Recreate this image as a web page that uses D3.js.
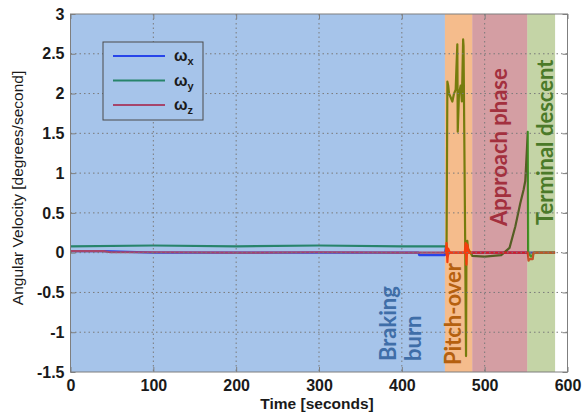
<!DOCTYPE html>
<html>
<head>
<meta charset="utf-8">
<script src="https://cdn.jsdelivr.net/npm/d3@7"></script>
<style>
  body { margin: 0; background: #fff; }
  text { font-family: "Liberation Sans", Arial, sans-serif; }
</style>
</head>
<body>
<script>
// series (time in seconds, rate in deg/s)
const tX = [0, 40, 100, 200, 300, 400, 420, 421, 452, 453, 455, 457, 476, 478, 480, 485, 552, 585];
const wX = [0.02, 0.02, 0, 0, 0, 0, 0, -0.03, -0.03, 0.06, -0.05, 0, 0, 0.1, 0, 0, 0, 0];

const tY = [0, 100, 200, 300, 400, 453, 454, 455, 456, 457, 459, 461, 463, 465, 466, 467, 467.5, 469, 471, 472.5, 474, 474.5, 476.5, 477.5, 478, 479, 480, 485, 500, 520, 530, 537, 543, 547, 549, 551, 552, 552.5, 556, 560, 585];
const wY = [0.08, 0.09, 0.08, 0.09, 0.08, 0.08, 0.06, 2.15, 2.1, 2.0, 1.95, 1.9, 2.0, 2.05, 2.35, 2.62, 1.52, 2.0, 2.1, 1.9, 2.68, 2.6, 0.1, -1.3, 0.05, 0.15, 0.05, -0.04, -0.05, -0.03, 0.06, 0.33, 0.62, 0.79, 0.9, 1.3, 1.52, 0, -0.05, 0, 0];

const tZ = [0, 40, 48, 100, 200, 300, 400, 453, 454, 455, 456, 458, 476, 477, 478, 479, 481, 485, 520, 552, 553, 554, 558, 559, 562, 585];
const wZ = [0.02, 0.02, 0.005, 0.005, 0.0, 0.005, 0.0, 0.0, 0.12, -0.12, 0.05, 0, 0, 0.12, -0.15, 0.1, 0, 0, 0, 0, -0.1, -0.08, -0.08, 0, 0, 0];

const seriesNames = ['x', 'y', 'z'];
const seriesColors = ['#0000ff', '#007f00', '#ff0000'];

const phaseNames = ['Braking burn', 'Pitch-over', 'Approach phase', 'Terminal descent'];
const phaseStart = [0, 452, 485, 551.5];
const phaseEnd = [452, 485, 551.5, 585];
const phaseFill = ['#4d89d5', '#eb7919', '#a93d47', '#89a94d'];
const phaseText = ['#3f6ea8', '#b5600f', '#a3303e', '#4b7a29'];

const xTicks = [0, 100, 200, 300, 400, 500, 600];
const yTicks = [-1.5, -1, -0.5, 0, 0.5, 1, 1.5, 2, 2.5, 3];

const W = 584, H = 419;
const plot = { left: 70.5, right: 567.5, top: 14, bottom: 372 };

const x = d3.scaleLinear().domain([0, 600]).range([plot.left, plot.right]);
const y = d3.scaleLinear().domain([-1.5, 3]).range([plot.bottom, plot.top]);

const svg = d3.select('body').append('svg').attr('width', W).attr('height', H);

svg.append('defs').append('clipPath').attr('id', 'clip')
  .append('rect')
  .attr('x', plot.left).attr('y', plot.top)
  .attr('width', plot.right - plot.left).attr('height', plot.bottom - plot.top);

svg.append('rect')
  .attr('x', plot.left).attr('y', plot.top)
  .attr('width', plot.right - plot.left).attr('height', plot.bottom - plot.top)
  .attr('fill', '#fff');

const body = svg.append('g').attr('clip-path', 'url(#clip)');

// data lines
const line = d3.line().x((d) => x(d[0])).y((d) => y(d[1]));
const seriesData = [d3.zip(tX, wX), d3.zip(tY, wY), d3.zip(tZ, wZ)];
seriesData.forEach((pts, i) => {
  body.append('path')
    .attr('d', line(pts))
    .attr('fill', 'none')
    .attr('stroke', seriesColors[i])
    .attr('stroke-width', 2.2)
    .attr('stroke-linejoin', 'round');
});

// translucent phase bands laid over the lines
body.selectAll('rect.phase')
  .data(phaseNames)
  .join('rect')
  .attr('class', 'phase')
  .attr('x', (d, i) => x(phaseStart[i]))
  .attr('width', (d, i) => x(phaseEnd[i]) - x(phaseStart[i]))
  .attr('y', plot.top)
  .attr('height', plot.bottom - plot.top)
  .attr('fill', (d, i) => phaseFill[i])
  .attr('fill-opacity', 0.5);

// dotted grid
const grid = svg.append('g').attr('stroke', '#7a7a7a').attr('stroke-width', 1).attr('stroke-dasharray', '1.5,3');
xTicks.slice(1, -1).forEach((t) => {
  grid.append('line').attr('x1', x(t)).attr('x2', x(t)).attr('y1', plot.top).attr('y2', plot.bottom);
});
yTicks.slice(1, -1).forEach((t) => {
  grid.append('line').attr('x1', plot.left).attr('x2', plot.right).attr('y1', y(t)).attr('y2', y(t));
});

// phase labels
const labelPos = [
  { lines: ['Braking', 'burn'], xs: [396, 421], y: 361 },
  { lines: ['Pitch-over'], xs: [461], y: 365 },
  { lines: ['Approach phase'], xs: [507], y: 226 },
  { lines: ['Terminal descent'], xs: [553], y: 225 }
];
labelPos.forEach((p, i) => {
  p.lines.forEach((txt, j) => {
    svg.append('text')
      .attr('transform', `translate(${p.xs[j]},${p.y}) rotate(-90)`)
      .attr('fill', phaseText[i])
      .style('font-family', 'Lato, sans-serif')
      .style('font-weight', 700)
      .style('font-size', '22px')
      .text(txt);
  });
});

// axes box and inward ticks
svg.append('rect')
  .attr('x', plot.left).attr('y', plot.top)
  .attr('width', plot.right - plot.left).attr('height', plot.bottom - plot.top)
  .attr('fill', 'none').attr('stroke', '#7f7f7f');

const fmt = (d) => String(d).replace('\u2212', '-');

const xAxis = svg.append('g').attr('transform', `translate(0,${plot.bottom})`)
  .call(d3.axisBottom(x).tickValues(xTicks).tickSize(-5).tickPadding(8).tickFormat(fmt));
const yAxis = svg.append('g').attr('transform', `translate(${plot.left},0)`)
  .call(d3.axisLeft(y).tickValues(yTicks).tickSize(-5).tickPadding(6).tickFormat(fmt));
svg.append('g').attr('transform', `translate(0,${plot.top})`)
  .call(d3.axisTop(x).tickValues(xTicks).tickSize(-5).tickFormat(''));
svg.append('g').attr('transform', `translate(${plot.right},0)`)
  .call(d3.axisRight(y).tickValues(yTicks).tickSize(-5).tickFormat(''));

svg.selectAll('.domain').remove();
svg.selectAll('.tick line').attr('stroke', '#7f7f7f');
[xAxis, yAxis].forEach((g) => {
  g.selectAll('text')
    .attr('fill', '#1a1a1a')
    .style('font-family', '"Liberation Sans", Arial, sans-serif')
    .style('font-size', '16px')
    .style('font-weight', 700);
});

// axis titles
svg.append('text')
  .attr('x', 317).attr('y', 409)
  .attr('text-anchor', 'middle')
  .style('font-size', '15.5px').style('font-weight', 700)
  .attr('fill', '#1a1a1a')
  .text('Time [seconds]');

svg.append('text')
  .attr('transform', 'translate(23,188) rotate(-90)')
  .attr('text-anchor', 'middle')
  .style('font-size', '15.5px')
  .attr('fill', '#1a1a1a')
  .text('Angular Velocity [degrees/second]');

// legend
const legend = { x: 103, y: 42, w: 100, h: 78 };
const lg = svg.append('g');
lg.append('rect')
  .attr('x', legend.x).attr('y', legend.y).attr('width', legend.w).attr('height', legend.h)
  .attr('fill', '#a6c4ea').attr('stroke', '#4a4a4a');
seriesNames.forEach((s, i) => {
  const ly = legend.y + 14 + i * 24.5;
  lg.append('line')
    .attr('x1', legend.x + 10).attr('x2', legend.x + 62)
    .attr('y1', ly).attr('y2', ly)
    .attr('stroke', d3.interpolateRgb(seriesColors[i], phaseFill[0])(0.5))
    .attr('stroke-width', 2);
  const t = lg.append('text')
    .attr('x', legend.x + 71).attr('y', ly + 5)
    .attr('fill', '#1a1a1a')
    .style('font-size', '16px').style('font-weight', 700);
  t.append('tspan').text('\u03c9');
  t.append('tspan').attr('dy', 4).style('font-size', '11px').text(s);
});
</script>
</body>
</html>
